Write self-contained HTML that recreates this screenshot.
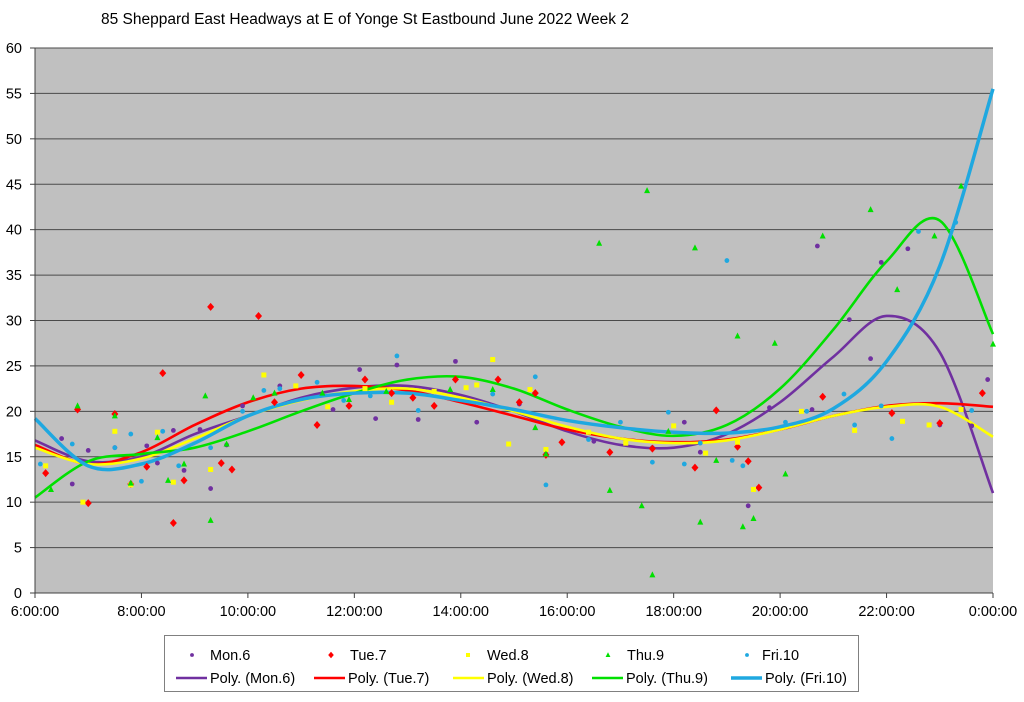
<!DOCTYPE html>
<html><head><meta charset="utf-8"><style>
body{margin:0;background:#fff;width:1024px;height:697px;overflow:hidden;font-family:"Liberation Sans",sans-serif}
svg text{font-family:"Liberation Sans",sans-serif}
</style></head><body>
<svg id="chart" width="1024" height="697" xmlns="http://www.w3.org/2000/svg">
<text x="101" y="24" font-size="15.5" fill="#000">85 Sheppard East Headways at E of Yonge St Eastbound June 2022  Week 2</text>
<rect x="35" y="48" width="958" height="545" fill="#c0c0c0"/>
<g id="grid"></g><g id="curves"></g><g id="points"></g><g id="axes"></g>
<g id="legend">
<rect x="164.5" y="635.5" width="694" height="56" fill="#fff" stroke="#808080"/>
</g>
</svg>
<script>
const xTicks=["6:00:00","8:00:00","10:00:00","12:00:00","14:00:00","16:00:00","18:00:00","20:00:00","22:00:00","0:00:00"];
const yTicks=[0,5,10,15,20,25,30,35,40,45,50,55,60];
const curveHours=[6,7,8,9,10,11,12,13,14,15,16,17,18,19,20,21,22,23,24];
const monCurve=[16.8,14.5,15,17.5,19.5,21.5,22.6,22.8,21.8,20,17.8,16.3,16,17.5,21,26,30.5,26.5,11];
const tueCurve=[16.3,14.2,15.5,18.5,21,22.5,22.8,22.3,21,19.5,18,17,16.6,16.9,18,19.5,20.6,20.9,20.5];
const wedCurve=[16,14.2,14.8,17,19.5,21.2,22.2,22.5,21.5,20,18.3,17,16.5,16.8,18,19.5,20.5,20.5,17.2];
const thuCurve=[10.5,14.5,15.3,16,17.8,20,22,23.5,23.8,22.5,20.2,18.3,17.3,18.5,22.5,29,36.5,41,28.5];
const friCurve=[19.2,14,14.2,16.5,19.5,21.3,22,22,21.2,20.2,19,18.2,17.7,17.6,18.3,20.3,25.5,36,55.5];
const monPts=[[6.5,17],[6.7,12],[7,15.7],[7.5,16],[7.8,12],[8.1,16.2],[8.3,14.3],[8.6,17.9],[8.8,13.5],[9.1,18],[9.3,11.5],[9.6,16.3],[9.9,20.6],[10.6,22.8],[11.6,20.2],[12.1,24.6],[12.4,19.2],[12.8,25.1],[13.2,19.1],[13.9,25.5],[14.3,18.8],[15.1,20.8],[15.6,15.3],[16.5,16.7],[17.6,16],[18.2,18.8],[18.5,15.5],[19.4,9.6],[19.8,20.4],[20.6,20.2],[20.7,38.2],[21.3,30.1],[21.7,25.8],[21.9,36.4],[22.4,37.9],[23.0,18.5],[23.6,18.4],[23.9,23.5]];
const tuePts=[[6.2,13.2],[6.8,20.2],[7,9.9],[7.5,19.7],[7.8,12],[8.1,13.9],[8.4,24.2],[8.6,7.7],[8.8,12.4],[9.3,31.5],[9.5,14.3],[9.7,13.6],[10.2,30.5],[10.5,21],[11,24],[11.3,18.5],[11.9,20.6],[12.2,23.5],[12.7,22],[13.1,21.5],[13.5,20.6],[13.9,23.5],[14.7,23.5],[15.1,21],[15.4,22],[15.6,15.2],[15.9,16.6],[16.8,15.5],[17.6,15.9],[18.4,13.8],[18.8,20.1],[19.2,16.1],[19.4,14.5],[19.6,11.6],[20.8,21.6],[22.1,19.8],[23.0,18.7],[23.8,22]];
const wedPts=[[6.2,14],[6.9,10],[7.5,17.8],[7.8,11.9],[8.3,17.7],[8.6,12.2],[9.3,13.6],[10.3,24],[10.9,22.8],[11.5,20.5],[12.2,22.5],[12.7,21],[13.5,22.2],[14.1,22.6],[14.3,22.9],[14.6,25.7],[14.9,16.4],[15.3,22.4],[15.6,15.8],[16.4,17.7],[17.1,16.5],[18.0,18.4],[18.6,15.4],[19.2,16.6],[19.5,11.4],[20.4,20],[21.4,17.9],[22.3,18.9],[22.8,18.5],[23.4,20.2]];
const thuPts=[[6.3,11.4],[6.8,20.6],[7.5,19.5],[7.8,12.1],[8.3,17.1],[8.5,12.4],[8.8,14.2],[9.2,21.7],[9.3,8],[9.6,16.4],[10.1,21.5],[10.5,22],[11.4,22],[11.9,21.3],[12.6,22.2],[13.8,22.4],[14.6,22.4],[15.4,18.2],[15.6,15.3],[16.6,38.5],[16.8,11.3],[17.4,9.6],[17.5,44.3],[17.6,2],[17.9,17.8],[18.4,38],[18.5,7.8],[18.8,14.6],[19.2,28.3],[19.3,7.3],[19.5,8.2],[19.9,27.5],[20.1,13.1],[20.8,39.3],[21.7,42.2],[22.2,33.4],[22.9,39.3],[23.4,44.8],[24.0,27.4]];
const friPts=[[6.1,14.2],[6.7,16.4],[7.5,16],[7.8,17.5],[8.0,12.3],[8.4,17.8],[8.7,14],[9.3,16],[9.9,20],[10.3,22.3],[10.6,22.5],[11.3,23.2],[11.8,21.2],[12.3,21.7],[12.8,26.1],[13.2,20.1],[14.6,21.9],[15.4,23.8],[15.6,11.9],[16.4,16.9],[17.0,18.8],[17.6,14.4],[17.9,19.9],[18.2,14.2],[18.5,16.5],[19.0,36.6],[19.1,14.6],[19.3,14],[20.1,18.8],[20.5,20],[21.2,21.9],[21.4,18.5],[21.9,20.6],[22.1,17],[22.6,39.8],[23.3,40.8],[23.6,20.1]];

const NS="http://www.w3.org/2000/svg";
const X0=35,X1=993,Y0=593,Y1=48;
const xs=h=>X0+(h-6)/18*(X1-X0);
const ys=v=>Y0-v/60*(Y0-Y1);
function mk(tag,attrs,parent){const e=document.createElementNS(NS,tag);for(const k in attrs)e.setAttribute(k,attrs[k]);parent.appendChild(e);return e;}
const grid=document.getElementById('grid'),axes=document.getElementById('axes'),cg=document.getElementById('curves'),pg=document.getElementById('points');
yTicks.forEach(v=>{
  if(v>0){const l=mk('line',{x1:X0,x2:X1,y1:ys(v),y2:ys(v),stroke:'#4a4a4a','stroke-width':1},grid);
  
  }
  const t=mk('text',{x:X0-13,y:ys(v)+5,'font-size':14.5,'text-anchor':'end'},axes);t.textContent=v;
  
  
  mk('line',{x1:X0-5,x2:X0,y1:ys(v),y2:ys(v),stroke:'#404040'},axes);
});
xTicks.forEach((s,i)=>{
  const x=xs(6+i*2);
  const t=mk('text',{x:x,y:Y0+23,'font-size':14.5,'text-anchor':'middle'},axes);t.textContent=s;
  
  
  mk('line',{x1:x,x2:x,y1:Y0,y2:Y0+5,stroke:'#404040'},axes);
});
const xa=mk('line',{x1:X0,x2:X1,y1:Y0,y2:Y0,stroke:'#404040'},axes);


const ya=mk('line',{x1:X0,x2:X0,y1:Y1,y2:Y0,stroke:'#404040'},axes);



function curvePath(vals){
  const p=vals.map((v,i)=>[xs(curveHours[i]),ys(v)]);
  let d=`M${p[0][0]},${p[0][1]}`;
  for(let i=0;i<p.length-1;i++){
    const a=p[Math.max(0,i-1)],b=p[i],c=p[i+1],e=p[Math.min(p.length-1,i+2)];
    d+=` C${b[0]+(c[0]-a[0])/6},${b[1]+(c[1]-a[1])/6} ${c[0]-(e[0]-b[0])/6},${c[1]-(e[1]-b[1])/6} ${c[0]},${c[1]}`;
  }
  return d;
}
const series=[
 {n:'mon',c:'#7030a0',curve:monCurve,pts:monPts,m:'circle',label:'Mon.6'},
 {n:'tue',c:'#ff0000',curve:tueCurve,pts:tuePts,m:'diamond',label:'Tue.7'},
 {n:'wed',c:'#ffff00',curve:wedCurve,pts:wedPts,m:'square',label:'Wed.8'},
 {n:'thu',c:'#00e000',curve:thuCurve,pts:thuPts,m:'triangle',label:'Thu.9'},
 {n:'fri',c:'#1fa8e0',curve:friCurve,pts:friPts,m:'circle',label:'Fri.10'}];
function marker(type,x,y,col,parent,s){
  s=s||1;let e;
  if(type==='circle')e=mk('circle',{cx:x,cy:y,r:2.4*s,fill:col},parent);
  else if(type==='diamond')e=mk('polygon',{points:`${x},${y-4*s} ${x+3.5*s},${y} ${x},${y+4*s} ${x-3.5*s},${y}`,fill:col},parent);
  else if(type==='square')e=mk('rect',{x:x-2.5*s,y:y-2.5*s,width:5*s,height:5*s,fill:col},parent);
  else e=mk('polygon',{points:`${x},${y-3.5*s} ${x+3*s},${y+2.5*s} ${x-3*s},${y+2.5*s}`,fill:col},parent);
  return e;
}
series.forEach(s=>{
  s.pts.forEach(p=>{
    const e=marker(s.m,xs(p[0]),ys(p[1]),s.c,pg);
    
    
  });
});
series.forEach(s=>{
  const e=mk('path',{d:curvePath(s.curve),fill:'none',stroke:s.c,'stroke-width':s.n==='fri'?3.5:2.6},cg);
  
  
});
const lg=document.getElementById('legend');
const mkX=[192,331,468,608,747],txX=[210,350,487,627,762],lnX=[176,314,453,592,731];
series.forEach((s,i)=>{
  const m=marker(s.m,mkX[i],655,s.c,lg,0.8);
  
  
  const t=mk('text',{x:txX[i],y:660,'font-size':14.5},lg);t.textContent=s.label;
  
  
  const l=mk('line',{x1:lnX[i],x2:lnX[i]+31,y1:678,y2:678,stroke:s.c,'stroke-width':s.n==='fri'?3.5:2.6},lg);
  
  
  const t2=mk('text',{x:lnX[i]+34,y:683,'font-size':14.5},lg);t2.textContent='Poly. ('+s.label+')';
  
  
});
</script>
</body></html>
